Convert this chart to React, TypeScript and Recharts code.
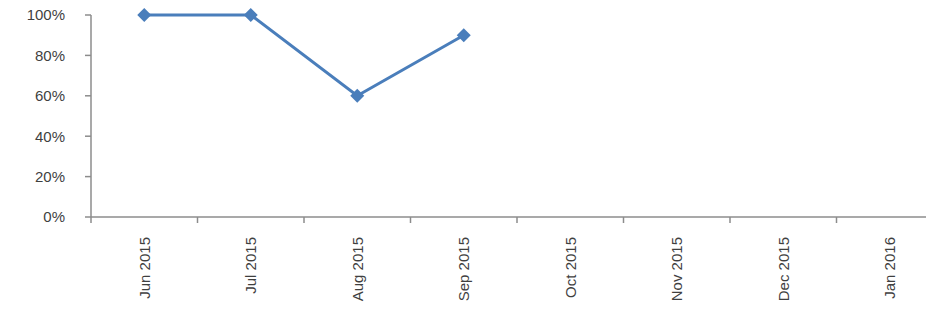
import React from 'react';
import { LineChart, Line, XAxis, YAxis } from 'recharts';

const months = ['Jun 2015', 'Jul 2015', 'Aug 2015', 'Sep 2015', 'Oct 2015', 'Nov 2015', 'Dec 2015', 'Jan 2016'];
const rates: (number | null)[] = [100, 100, 60, 90, null, null, null, null];
const yTicks = [0, 20, 40, 60, 80, 100];

const data = months.map((month, i) => ({ pos: i + 0.5, month, rate: rates[i] }));
// tick marks sit on category boundaries, labels on category centres
const xTicks = [...months.map((_, i) => i), months.length, ...months.map((_, i) => i + 0.5)].sort((a, b) => a - b);

const LINE = '#4A7EBB';
const AXIS = '#8c8c8c';
const TEXT = '#3f3f3f';
const FONT = '"Liberation Sans", Arial, sans-serif';

const XTick = (props: any) => {
  const { x, y, payload } = props;
  const v = payload.value as number;
  if (Number.isInteger(v)) {
    return <line x1={x} y1={y} x2={x} y2={y + 6} stroke={AXIS} strokeWidth={1.5} />;
  }
  const label = months[Math.floor(v)];
  return (
    <text
      x={x}
      y={y + 20}
      transform={`rotate(-90, ${x}, ${y + 20})`}
      textAnchor="end"
      dy="0.35em"
      fill={TEXT}
      fontSize={15}
      fontFamily={FONT}
    >
      {label}
    </text>
  );
};

const Diamond = (props: any) => {
  const { cx, cy } = props;
  if (cx == null || cy == null || props.value == null) return <g />;
  const r = 7;
  return <path d={`M${cx},${cy - r} L${cx + r},${cy} L${cx},${cy + r} L${cx - r},${cy} Z`} fill={LINE} />;
};

export default function App() {
  return (
    <div style={{ position: 'fixed', top: 0, left: 0, width: 926, height: 332, overflow: 'hidden', background: '#fff' }}>
      <LineChart width={960} height={332} data={data} margin={{ top: 15, right: 17, left: 0, bottom: 0 }}>
        <XAxis
          dataKey="pos"
          type="number"
          domain={[0, months.length]}
          ticks={xTicks}
          interval={0}
          height={115}
          tickLine={false}
          tickSize={0}
          tickMargin={0}
          tick={<XTick />}
          axisLine={{ stroke: AXIS, strokeWidth: 1.5 }}
        />
        <YAxis
          domain={[0, 100]}
          ticks={yTicks}
          width={91}
          tickFormatter={(v) => `${v}%`}
          tickSize={6}
          tickMargin={20}
          tickLine={{ stroke: AXIS, strokeWidth: 1.5 }}
          axisLine={{ stroke: AXIS, strokeWidth: 1.5 }}
          tick={{ fill: TEXT, fontSize: 15, fontFamily: FONT }}
        />
        <Line
          dataKey="rate"
          stroke={LINE}
          strokeWidth={3}
          dot={<Diamond />}
          activeDot={false}
          connectNulls={false}
          isAnimationActive={false}
        />
      </LineChart>
    </div>
  );
}
